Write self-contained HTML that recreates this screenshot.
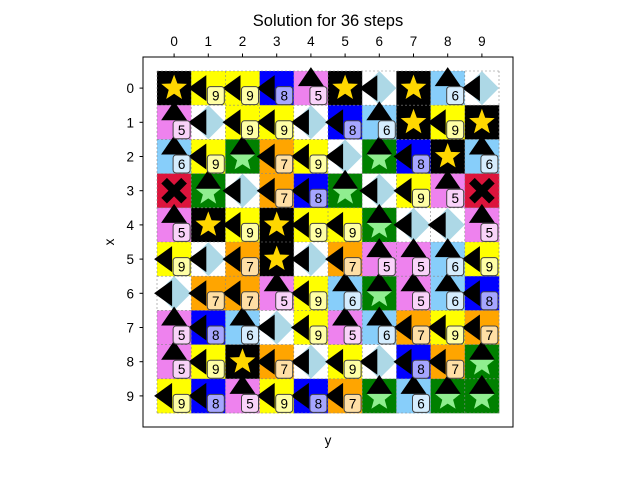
<!DOCTYPE html>
<html><head><meta charset="utf-8"><style>
body{margin:0;background:#fff;}
svg{display:block;font-family:"Liberation Sans","DejaVu Sans",sans-serif;}
</style></head><body>
<svg id="chart" width="640" height="480" xmlns="http://www.w3.org/2000/svg">
<rect width="640" height="480" fill="#fff"/>
<text x="328" y="26" font-size="16.5" text-anchor="middle">Solution for 36 steps</text>
<g id="cells"></g>
<g id="grid"></g>
<g id="marks"></g>
<g id="labels"></g>
<rect x="143" y="57" width="370" height="370" fill="none" stroke="#000" stroke-width="1"/>
<g id="ticks"></g>
<text x="328" y="445" font-size="13.5" text-anchor="middle">y</text>
<text x="114" y="242" font-size="13.5" text-anchor="middle" transform="rotate(-90 114 242)">x</text>
</svg>
<script>
// grid codes: K=black star, Y=yellow 9, B=blue 8, V=violet 5, S=skyblue 6, O=orange 7, W=white diamond, G=green star, X=crimson cross
const gridRows = [
"KYYBVKWKSW",
"VWYYWBSKYK",
"SYGOYWGBKS",
"XGWOBGWYVX",
"VKYKYYGWWV",
"YWOKWOVVSY",
"WOOVYSGVSB",
"VBSWYVSOYO",
"VYKOWYWBOG",
"YBVYBOGSGG"
];
const codeColor = {K:"#000000",Y:"#ffff00",B:"#0000ff",V:"#ee82ee",S:"#87cefa",O:"#ffa500",W:"#ffffff",G:"#008000",X:"#dc143c"};
const codeLabel = {Y:"9",B:"8",V:"5",S:"6",O:"7"};
const codeArrow = {Y:"left",B:"left",O:"left",W:"left",V:"up",S:"up",G:"up"};
const tickLabels = ["0","1","2","3","4","5","6","7","8","9"];

const NS="http://www.w3.org/2000/svg";
const C=34.2, X0=157, Y0=71;
function cx(c){return X0+C*(c+0.5);}
function cy(r){return Y0+C*(r+0.5);}
function mk(tag,attrs,parent){const e=document.createElementNS(NS,tag);for(const k in attrs)e.setAttribute(k,attrs[k]);parent.appendChild(e);return e;}
function mix(hex){const n=parseInt(hex.slice(1),16);const r=(n>>16)&255,g=(n>>8)&255,b=n&255;const f=v=>Math.round(0.7*255+0.3*v);return `rgb(${f(r)},${f(g)},${f(b)})`;}
function starPts(x,y,R){const r=R*0.42;let p=[];for(let i=0;i<10;i++){const a=-Math.PI/2+i*Math.PI/5;const rr=i%2?r:R;p.push((x+rr*Math.cos(a)).toFixed(1)+","+(y+rr*Math.sin(a)).toFixed(1));}return p.join(" ");}

const gCells=document.getElementById('cells'),gGrid=document.getElementById('grid'),gMarks=document.getElementById('marks'),gLab=document.getElementById('labels'),gT=document.getElementById('ticks');

gridRows.forEach((row,r)=>{
  row.split('').forEach((code,c)=>{
    const cell=mk('rect',{x:X0+C*c,y:Y0+C*r,width:C+0.3,height:C+0.3,fill:codeColor[code]},gCells);
    
    
  });
});
for(let i=0;i<=10;i++){
  mk('line',{x1:X0+C*i,y1:Y0,x2:X0+C*i,y2:Y0+C*10,stroke:"#888",'stroke-width':0.6,'stroke-dasharray':'2,2'},gGrid);
  mk('line',{x1:X0,y1:Y0+C*i,x2:X0+C*10,y2:Y0+C*i,stroke:"#888",'stroke-width':0.6,'stroke-dasharray':'2,2'},gGrid);
}
gridRows.forEach((row,r)=>{
  row.split('').forEach((code,c)=>{
    const x=cx(c),y=cy(r);let e;
    if(code==='K'){e=mk('polygon',{points:starPts(x,y,13.5),fill:"#ffd700"},gMarks);}
    else if(code==='G'){e=mk('polygon',{points:starPts(x,y+2,13.5),fill:"#90ee90"},gMarks);}
    else if(code==='W'){e=mk('polygon',{points:`${x},${y-17} ${x+17},${y} ${x},${y+17} ${x-17},${y}`,fill:"#add8e6"},gMarks);}
    else if(code==='X'){e=mk('path',{d:`M${x-10},${y-10}L${x+10},${y+10}M${x+10},${y-10}L${x-10},${y+10}`,stroke:"#000",'stroke-width':8},gMarks);}

  });
});
gridRows.forEach((row,r)=>{
  row.split('').forEach((code,c)=>{
    const x=cx(c),y=cy(r),a=codeArrow[code];let e;
    if(a==='up'){const ty=y-11;e=mk('polygon',{points:`${x},${ty-10} ${x+13},${ty+9} ${x-13},${ty+9}`,fill:"#000"},gMarks);}
    else if(a==='left'){const tx=x-11;e=mk('polygon',{points:`${tx-9},${y} ${tx+9},${y-13} ${tx+9},${y+13}`,fill:"#000"},gMarks);}

  });
});
gridRows.forEach((row,r)=>{
  row.split('').forEach((code,c)=>{
    const L=codeLabel[code];if(!L)return;
    const x=cx(c)+7.5,y=cy(r)+7.5;
    const b=mk('rect',{x:x-8.5,y:y-9,width:17,height:18,rx:3,fill:mix(codeColor[code]),'fill-opacity':0.92,stroke:"#444",'stroke-width':1},gLab);
    
    
    const t=mk('text',{x:x,y:y+5,'font-size':13.5,'text-anchor':'middle',fill:"#000"},gLab);
    t.textContent=L;
    
    
  });
});
tickLabels.forEach((lab,i)=>{
  mk('line',{x1:cx(i),y1:57,x2:cx(i),y2:53.5,stroke:"#000"},gT);
  const t=mk('text',{x:cx(i),y:46,'font-size':13.5,'text-anchor':'middle'},gT);
  t.textContent=lab;
  
  
  mk('line',{x1:143,y1:cy(i),x2:139.5,y2:cy(i),stroke:"#000"},gT);
  const u=mk('text',{x:134,y:cy(i)+5,'font-size':13.5,'text-anchor':'end'},gT);
  u.textContent=lab;
  
  
});
</script>
</body></html>
